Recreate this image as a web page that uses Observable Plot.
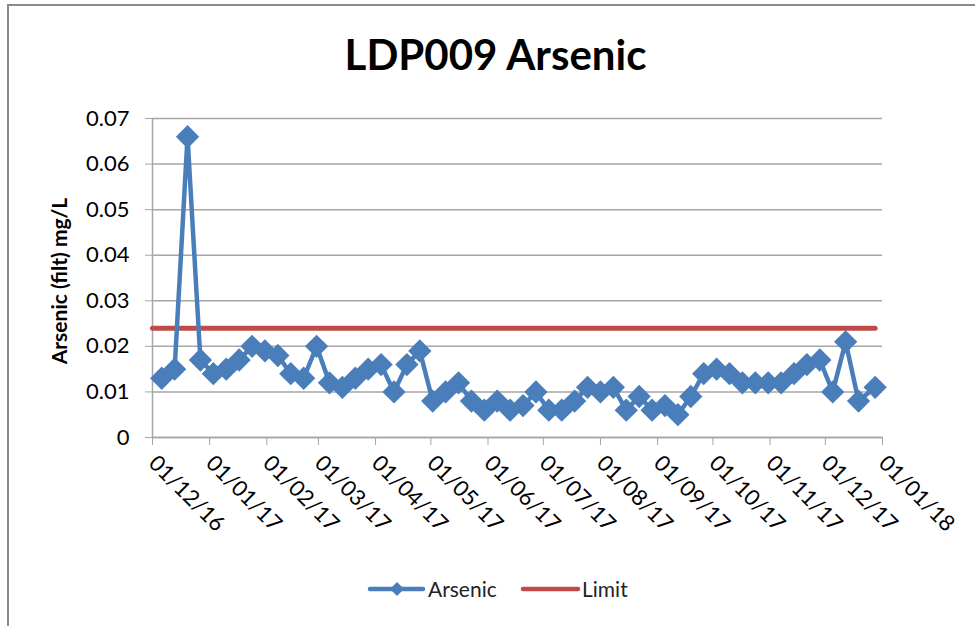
<!DOCTYPE html>
<html>
<head>
<meta charset="utf-8">
<script src="https://cdn.jsdelivr.net/npm/d3@7"></script>
<script src="https://cdn.jsdelivr.net/npm/@observablehq/plot@0.6"></script>
<style>
  html, body { margin: 0; padding: 0; background: #fff; }
  #wrap { position: relative; width: 975px; height: 626px; overflow: hidden; font-family: Lato, "Open Sans", sans-serif; }
  #border { position: absolute; left: 7px; top: 4px; width: 1000px; height: 700px; border-left: 2px solid #8a8a8a; border-top: 2px solid #8a8a8a; }
  #title { position: absolute; left: 8px; width: 975px; top: 29px; text-align: center; font-size: 42px; font-weight: bold; color: #000; }
  #chart { position: absolute; left: 0; top: 100px; }
  #legend { position: absolute; left: 0; top: 576px; width: 975px; height: 26px; }
  #legend .item { position: absolute; top: 0; font-size: 21px; color: #222; line-height: 26px; }
</style>
</head>
<body>
<div id="wrap">
  <div id="border"></div>
  <div id="title">LDP009 Arsenic</div>
  <div id="chart"></div>
  <div id="legend">
    <svg width="975" height="26" style="position:absolute;left:0;top:0">
      <line x1="370" x2="423" y1="13" y2="13" stroke="#4A7EBB" stroke-width="4.5" stroke-linecap="round"/>
      <path d="M397,6 L404,13 L397,20 L390,13 Z" fill="#4A7EBB"/>
      <line x1="523" x2="578" y1="13" y2="13" stroke="#BE4B48" stroke-width="4.5" stroke-linecap="round"/>
    </svg>
    <span class="item" style="left:428px">Arsenic</span>
    <span class="item" style="left:582px">Limit</span>
  </div>
</div>
<script>
// Sample dates (dd/mm/yy on axis)
const sampleDates = [
  "2016-12-06","2016-12-13","2016-12-20","2016-12-27","2017-01-03","2017-01-10","2017-01-17","2017-01-24",
  "2017-01-31","2017-02-07","2017-02-14","2017-02-21","2017-02-28","2017-03-07","2017-03-14","2017-03-21",
  "2017-03-28","2017-04-04","2017-04-11","2017-04-18","2017-04-25","2017-05-02","2017-05-09","2017-05-16",
  "2017-05-23","2017-05-30","2017-06-06","2017-06-13","2017-06-20","2017-06-27","2017-07-04","2017-07-11",
  "2017-07-18","2017-07-25","2017-08-01","2017-08-08","2017-08-15","2017-08-22","2017-08-29","2017-09-05",
  "2017-09-12","2017-09-19","2017-09-26","2017-10-03","2017-10-10","2017-10-17","2017-10-24","2017-10-31",
  "2017-11-07","2017-11-14","2017-11-21","2017-11-28","2017-12-05","2017-12-12","2017-12-19","2017-12-28"
];
// Arsenic (filt) mg/L
const arsenicValues = [
  0.013,0.015,0.066,0.017,0.014,0.015,0.017,0.020,
  0.019,0.018,0.014,0.013,0.020,0.012,0.011,0.013,
  0.015,0.016,0.010,0.016,0.019,0.008,0.010,0.012,
  0.008,0.006,0.008,0.006,0.007,0.010,0.006,0.006,
  0.008,0.011,0.010,0.011,0.006,0.009,0.006,0.007,
  0.005,0.009,0.014,0.015,0.014,0.012,0.012,0.012,
  0.012,0.014,0.016,0.017,0.010,0.021,0.008,0.011
];
const limitDates = ["2016-12-01","2017-12-28"];
const limitValues = [0.024, 0.024];
const yTicks = [0, 0.01, 0.02, 0.03, 0.04, 0.05, 0.06, 0.07];
const xTickDates = ["2016-12-01","2017-01-01","2017-02-01","2017-03-01","2017-04-01","2017-05-01","2017-06-01",
  "2017-07-01","2017-08-01","2017-09-01","2017-10-01","2017-11-01","2017-12-01","2018-01-01"];
const xDomain = ["2016-12-01","2018-01-01"];

const parse = d3.utcParse("%Y-%m-%d");
const arsenic = sampleDates.map((d, i) => ({date: parse(d), value: arsenicValues[i]}));
const limit = limitDates.map((d, i) => ({date: parse(d), value: limitValues[i]}));
const fmtX = d3.utcFormat("%d/%m/%y");

const blue = "#4A7EBB", red = "#BE4B48", grid = "#a6a6a6";

const chart = Plot.plot({
  width: 975,
  height: 470,
  marginLeft: 152,
  marginRight: 93,
  marginTop: 18,
  marginBottom: 133,
  style: {fontFamily: "Lato, 'Open Sans', sans-serif", background: "transparent", overflow: "visible"},
  x: {type: "utc", domain: xDomain.map(parse)},
  y: {domain: [0, 0.07]},
  marks: [
    Plot.gridY(yTicks, {stroke: grid, strokeOpacity: 1, strokeWidth: 1.5}),
    Plot.axisY({ticks: yTicks, tickSize: 7, tickPadding: 16, fontSize: 22, stroke: grid, fill: "#000",
      tickFormat: d => d === 0 ? "0" : d.toFixed(2), label: null}),
    Plot.ruleX([parse(xDomain[0])], {stroke: grid, strokeWidth: 1.5}),
    Plot.ruleY([0], {stroke: grid, strokeWidth: 1.5}),
    Plot.axisX({ticks: xTickDates.map(parse), tickSize: 8, tickPadding: 14, tickRotate: 45, fontSize: 22,
      stroke: grid, fill: "#000", tickFormat: fmtX, label: null}),
    Plot.text(["Arsenic (filt) mg/L"], {frameAnchor: "left", textAnchor: "middle", dx: -92, dy: 3, rotate: -90,
      fontSize: 21, fontWeight: "bold", fill: "#000"}),
    Plot.line(limit, {x: "date", y: "value", stroke: red, strokeWidth: 5}),
    Plot.line(arsenic, {x: "date", y: "value", stroke: blue, strokeWidth: 4.5, strokeLinejoin: "round"}),
    Plot.dot(arsenic, {x: "date", y: "value", symbol: "diamond2", r: 10.5, fill: blue, stroke: "none"})
  ]
});
document.getElementById("chart").appendChild(chart);
</script>
</body>
</html>
